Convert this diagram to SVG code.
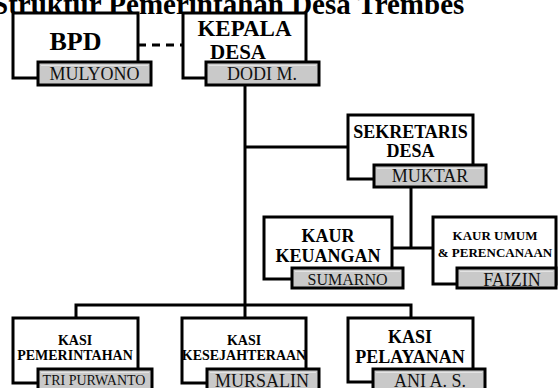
<svg xmlns="http://www.w3.org/2000/svg" width="558" height="388" viewBox="0 0 558 388">
<style>
.box{fill:#fff;stroke:#000;stroke-width:3}
.nm{fill:#c9c9c9;stroke:#000;stroke-width:3}
.hl{fill:none;stroke:#e4e4e4;stroke-width:1}
.t{font-family:"Liberation Serif","Times New Roman",serif;font-weight:bold;text-anchor:middle;fill:#000}
.n{font-family:"Liberation Serif","Times New Roman",serif;text-anchor:middle;fill:#111}
.c{fill:none;stroke:#000;stroke-width:3}
</style>
<rect width="558" height="388" fill="#fff"/>
<text x="-8" y="14" font-family="Liberation Serif, Times New Roman, serif" font-weight="bold" font-size="29">Struktur Pemerintahan Desa Trembes</text>
<g id="connectors">
<path class="c" d="M138,45 H183" stroke-dasharray="8 6"/>
<path class="c" d="M245,85 V318"/>
<path class="c" d="M245,147 H348"/>
<path class="c" d="M411,187 V248"/>
<path class="c" d="M392,248 H433"/>
<path class="c" d="M76,318 V305 H411 V318"/>
</g>
<g id="bpd">
<rect class="box" x="13" y="13" width="125" height="65"/>
<text class="t" x="75.5" y="50" font-size="26">BPD</text>
<rect class="nm" x="38" y="62" width="113" height="23"/>
<path class="hl" d="M41,65.5 H148"/>
<text class="n" x="94.5" y="80" font-size="18">MULYONO</text>
</g>
<g id="kepala">
<rect class="box" x="183" y="13" width="123" height="65"/>
<text class="t" x="244.5" y="36" font-size="23">KEPALA</text>
<text class="t" x="238" y="59" font-size="21">DESA</text>
<rect class="nm" x="206" y="62" width="113" height="23"/>
<path class="hl" d="M209,65.5 H316"/>
<text class="n" x="262" y="80" font-size="18">DODI M.</text>
</g>
<g id="sekretaris">
<rect class="box" x="348" y="115" width="125" height="64"/>
<text class="t" x="410.5" y="138" font-size="18">SEKRETARIS</text>
<text class="t" x="410.5" y="157" font-size="18">DESA</text>
<rect class="nm" x="374" y="165" width="112" height="22"/>
<path class="hl" d="M377,168.5 H483"/>
<text class="n" x="430" y="182" font-size="18">MUKTAR</text>
</g>
<g id="kaur-keuangan">
<rect class="box" x="264" y="217" width="128" height="62"/>
<text class="t" x="328" y="242" font-size="18">KAUR</text>
<text class="t" x="328" y="262" font-size="18">KEUANGAN</text>
<rect class="nm" x="292" y="268" width="111" height="20"/>
<path class="hl" d="M295,271.5 H400"/>
<text class="n" x="347.5" y="285" font-size="16">SUMARNO</text>
</g>
<g id="kaur-umum">
<rect class="box" x="433" y="217" width="123" height="67"/>
<text class="t" x="495" y="240" font-size="13">KAUR UMUM</text>
<text class="t" x="495" y="257" font-size="13">&amp; PERENCANAAN</text>
<rect class="nm" x="457" y="268" width="99" height="20"/>
<path class="hl" d="M460,271.5 H553"/>
<text class="n" x="512" y="286" font-size="18">FAIZIN</text>
</g>
<g id="kasi-pemerintahan">
<rect class="box" x="13" y="318" width="125" height="65"/>
<text class="t" x="75" y="345" font-size="14">KASI</text>
<text class="t" x="75" y="360" font-size="14">PEMERINTAHAN</text>
<rect class="nm" x="38" y="369" width="114" height="22"/>
<path class="hl" d="M41,372.5 H149"/>
<text class="n" x="94" y="385" font-size="14">TRI PURWANTO</text>
</g>
<g id="kasi-kesejahteraan">
<rect class="box" x="182" y="318" width="124" height="65"/>
<text class="t" x="244" y="345" font-size="14">KASI</text>
<text class="t" x="244" y="360" font-size="14">KESEJAHTERAAN</text>
<rect class="nm" x="207" y="369" width="112" height="22"/>
<path class="hl" d="M210,372.5 H316"/>
<text class="n" x="262" y="387" font-size="18">MURSALIN</text>
</g>
<g id="kasi-pelayanan">
<rect class="box" x="348" y="318" width="125" height="64"/>
<text class="t" x="410" y="343" font-size="18">KASI</text>
<text class="t" x="410" y="363" font-size="18">PELAYANAN</text>
<rect class="nm" x="373" y="369" width="112" height="22"/>
<path class="hl" d="M376,372.5 H482"/>
<text class="n" x="430" y="387" font-size="18">ANI A. S.</text>
</g>
</svg>
